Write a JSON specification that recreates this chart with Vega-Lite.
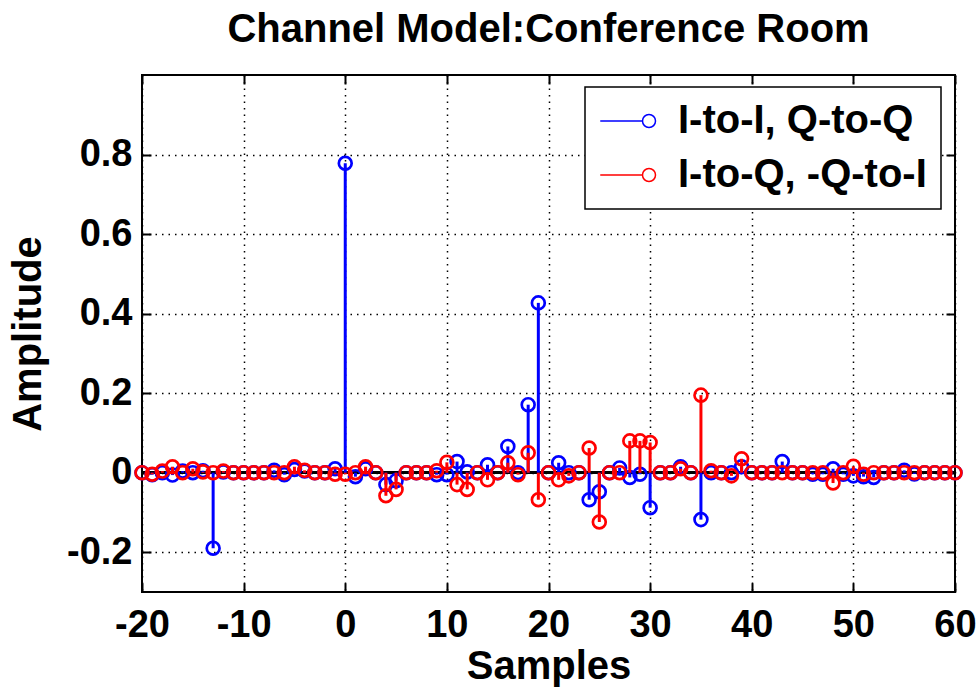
{
  "$schema": "https://vega.github.io/schema/vega-lite/v6.json",
  "width": 813,
  "height": 517,
  "autosize": {"type": "none"},
  "padding": {"left": 142, "top": 75, "right": 24, "bottom": 97},
  "background": "white",
  "title": {"text": "Channel Model:Conference Room", "font": "Liberation Sans", "fontSize": 40, "fontWeight": "bold", "color": "black", "anchor": "middle", "offset": 24},
  "datasets": {
    "stems": [
      {"n":-20,"v":0,"s":"I-to-I, Q-to-Q"},{"n":-19,"v":-0.005,"s":"I-to-I, Q-to-Q"},{"n":-18,"v":0,"s":"I-to-I, Q-to-Q"},{"n":-17,"v":-0.006,"s":"I-to-I, Q-to-Q"},{"n":-16,"v":0.004,"s":"I-to-I, Q-to-Q"},{"n":-15,"v":0,"s":"I-to-I, Q-to-Q"},{"n":-14,"v":0.005,"s":"I-to-I, Q-to-Q"},{"n":-13,"v":-0.19,"s":"I-to-I, Q-to-Q"},{"n":-12,"v":0.002,"s":"I-to-I, Q-to-Q"},{"n":-11,"v":0,"s":"I-to-I, Q-to-Q"},
      {"n":-10,"v":0,"s":"I-to-I, Q-to-Q"},{"n":-9,"v":0,"s":"I-to-I, Q-to-Q"},{"n":-8,"v":0,"s":"I-to-I, Q-to-Q"},{"n":-7,"v":0.006,"s":"I-to-I, Q-to-Q"},{"n":-6,"v":-0.005,"s":"I-to-I, Q-to-Q"},{"n":-5,"v":0.008,"s":"I-to-I, Q-to-Q"},{"n":-4,"v":0.004,"s":"I-to-I, Q-to-Q"},{"n":-3,"v":0,"s":"I-to-I, Q-to-Q"},{"n":-2,"v":0,"s":"I-to-I, Q-to-Q"},{"n":-1,"v":0.01,"s":"I-to-I, Q-to-Q"},
      {"n":0,"v":0.778,"s":"I-to-I, Q-to-Q"},{"n":1,"v":-0.01,"s":"I-to-I, Q-to-Q"},{"n":2,"v":0.01,"s":"I-to-I, Q-to-Q"},{"n":3,"v":0,"s":"I-to-I, Q-to-Q"},{"n":4,"v":-0.03,"s":"I-to-I, Q-to-Q"},{"n":5,"v":-0.02,"s":"I-to-I, Q-to-Q"},{"n":6,"v":0,"s":"I-to-I, Q-to-Q"},{"n":7,"v":0,"s":"I-to-I, Q-to-Q"},{"n":8,"v":0,"s":"I-to-I, Q-to-Q"},{"n":9,"v":-0.005,"s":"I-to-I, Q-to-Q"},
      {"n":10,"v":-0.005,"s":"I-to-I, Q-to-Q"},{"n":11,"v":0.028,"s":"I-to-I, Q-to-Q"},{"n":12,"v":0.002,"s":"I-to-I, Q-to-Q"},{"n":13,"v":0,"s":"I-to-I, Q-to-Q"},{"n":14,"v":0.02,"s":"I-to-I, Q-to-Q"},{"n":15,"v":0,"s":"I-to-I, Q-to-Q"},{"n":16,"v":0.066,"s":"I-to-I, Q-to-Q"},{"n":17,"v":0,"s":"I-to-I, Q-to-Q"},{"n":18,"v":0.171,"s":"I-to-I, Q-to-Q"},{"n":19,"v":0.427,"s":"I-to-I, Q-to-Q"},
      {"n":20,"v":0,"s":"I-to-I, Q-to-Q"},{"n":21,"v":0.025,"s":"I-to-I, Q-to-Q"},{"n":22,"v":0,"s":"I-to-I, Q-to-Q"},{"n":23,"v":0,"s":"I-to-I, Q-to-Q"},{"n":24,"v":-0.068,"s":"I-to-I, Q-to-Q"},{"n":25,"v":-0.048,"s":"I-to-I, Q-to-Q"},{"n":26,"v":0,"s":"I-to-I, Q-to-Q"},{"n":27,"v":0.012,"s":"I-to-I, Q-to-Q"},{"n":28,"v":-0.012,"s":"I-to-I, Q-to-Q"},{"n":29,"v":-0.004,"s":"I-to-I, Q-to-Q"},
      {"n":30,"v":-0.088,"s":"I-to-I, Q-to-Q"},{"n":31,"v":0,"s":"I-to-I, Q-to-Q"},{"n":32,"v":0,"s":"I-to-I, Q-to-Q"},{"n":33,"v":0.015,"s":"I-to-I, Q-to-Q"},{"n":34,"v":0,"s":"I-to-I, Q-to-Q"},{"n":35,"v":-0.118,"s":"I-to-I, Q-to-Q"},{"n":36,"v":0,"s":"I-to-I, Q-to-Q"},{"n":37,"v":0,"s":"I-to-I, Q-to-Q"},{"n":38,"v":0,"s":"I-to-I, Q-to-Q"},{"n":39,"v":0.015,"s":"I-to-I, Q-to-Q"},
      {"n":40,"v":0,"s":"I-to-I, Q-to-Q"},{"n":41,"v":0,"s":"I-to-I, Q-to-Q"},{"n":42,"v":0,"s":"I-to-I, Q-to-Q"},{"n":43,"v":0.028,"s":"I-to-I, Q-to-Q"},{"n":44,"v":0,"s":"I-to-I, Q-to-Q"},{"n":45,"v":0,"s":"I-to-I, Q-to-Q"},{"n":46,"v":-0.004,"s":"I-to-I, Q-to-Q"},{"n":47,"v":-0.004,"s":"I-to-I, Q-to-Q"},{"n":48,"v":0.01,"s":"I-to-I, Q-to-Q"},{"n":49,"v":-0.004,"s":"I-to-I, Q-to-Q"},
      {"n":50,"v":-0.008,"s":"I-to-I, Q-to-Q"},{"n":51,"v":-0.01,"s":"I-to-I, Q-to-Q"},{"n":52,"v":-0.012,"s":"I-to-I, Q-to-Q"},{"n":53,"v":0,"s":"I-to-I, Q-to-Q"},{"n":54,"v":0,"s":"I-to-I, Q-to-Q"},{"n":55,"v":0.006,"s":"I-to-I, Q-to-Q"},{"n":56,"v":-0.003,"s":"I-to-I, Q-to-Q"},{"n":57,"v":0,"s":"I-to-I, Q-to-Q"},{"n":58,"v":0,"s":"I-to-I, Q-to-Q"},{"n":59,"v":0,"s":"I-to-I, Q-to-Q"},
      {"n":60,"v":0,"s":"I-to-I, Q-to-Q"},
      {"n":-20,"v":0,"s":"I-to-Q, -Q-to-I"},{"n":-19,"v":-0.004,"s":"I-to-Q, -Q-to-I"},{"n":-18,"v":0.004,"s":"I-to-Q, -Q-to-I"},{"n":-17,"v":0.015,"s":"I-to-Q, -Q-to-I"},{"n":-16,"v":0,"s":"I-to-Q, -Q-to-I"},{"n":-15,"v":0.01,"s":"I-to-Q, -Q-to-I"},{"n":-14,"v":0.002,"s":"I-to-Q, -Q-to-I"},{"n":-13,"v":0,"s":"I-to-Q, -Q-to-I"},{"n":-12,"v":0.004,"s":"I-to-Q, -Q-to-I"},{"n":-11,"v":0,"s":"I-to-Q, -Q-to-I"},
      {"n":-10,"v":0,"s":"I-to-Q, -Q-to-I"},{"n":-9,"v":0,"s":"I-to-Q, -Q-to-I"},{"n":-8,"v":0,"s":"I-to-Q, -Q-to-I"},{"n":-7,"v":0,"s":"I-to-Q, -Q-to-I"},{"n":-6,"v":0,"s":"I-to-Q, -Q-to-I"},{"n":-5,"v":0.015,"s":"I-to-Q, -Q-to-I"},{"n":-4,"v":0.006,"s":"I-to-Q, -Q-to-I"},{"n":-3,"v":0,"s":"I-to-Q, -Q-to-I"},{"n":-2,"v":0,"s":"I-to-Q, -Q-to-I"},{"n":-1,"v":-0.004,"s":"I-to-Q, -Q-to-I"},
      {"n":0,"v":-0.004,"s":"I-to-Q, -Q-to-I"},{"n":1,"v":0,"s":"I-to-Q, -Q-to-I"},{"n":2,"v":0.015,"s":"I-to-Q, -Q-to-I"},{"n":3,"v":0,"s":"I-to-Q, -Q-to-I"},{"n":4,"v":-0.058,"s":"I-to-Q, -Q-to-I"},{"n":5,"v":-0.042,"s":"I-to-Q, -Q-to-I"},{"n":6,"v":0,"s":"I-to-Q, -Q-to-I"},{"n":7,"v":0,"s":"I-to-Q, -Q-to-I"},{"n":8,"v":0,"s":"I-to-Q, -Q-to-I"},{"n":9,"v":0.005,"s":"I-to-Q, -Q-to-I"},
      {"n":10,"v":0.026,"s":"I-to-Q, -Q-to-I"},{"n":11,"v":-0.03,"s":"I-to-Q, -Q-to-I"},{"n":12,"v":-0.042,"s":"I-to-Q, -Q-to-I"},{"n":13,"v":0,"s":"I-to-Q, -Q-to-I"},{"n":14,"v":-0.018,"s":"I-to-Q, -Q-to-I"},{"n":15,"v":0,"s":"I-to-Q, -Q-to-I"},{"n":16,"v":0.025,"s":"I-to-Q, -Q-to-I"},{"n":17,"v":-0.005,"s":"I-to-Q, -Q-to-I"},{"n":18,"v":0.05,"s":"I-to-Q, -Q-to-I"},{"n":19,"v":-0.068,"s":"I-to-Q, -Q-to-I"},
      {"n":20,"v":0,"s":"I-to-Q, -Q-to-I"},{"n":21,"v":-0.018,"s":"I-to-Q, -Q-to-I"},{"n":22,"v":-0.008,"s":"I-to-Q, -Q-to-I"},{"n":23,"v":0,"s":"I-to-Q, -Q-to-I"},{"n":24,"v":0.062,"s":"I-to-Q, -Q-to-I"},{"n":25,"v":-0.124,"s":"I-to-Q, -Q-to-I"},{"n":26,"v":0,"s":"I-to-Q, -Q-to-I"},{"n":27,"v":0,"s":"I-to-Q, -Q-to-I"},{"n":28,"v":0.08,"s":"I-to-Q, -Q-to-I"},{"n":29,"v":0.08,"s":"I-to-Q, -Q-to-I"},
      {"n":30,"v":0.076,"s":"I-to-Q, -Q-to-I"},{"n":31,"v":0,"s":"I-to-Q, -Q-to-I"},{"n":32,"v":0,"s":"I-to-Q, -Q-to-I"},{"n":33,"v":0.01,"s":"I-to-Q, -Q-to-I"},{"n":34,"v":0,"s":"I-to-Q, -Q-to-I"},{"n":35,"v":0.195,"s":"I-to-Q, -Q-to-I"},{"n":36,"v":0.005,"s":"I-to-Q, -Q-to-I"},{"n":37,"v":0,"s":"I-to-Q, -Q-to-I"},{"n":38,"v":-0.008,"s":"I-to-Q, -Q-to-I"},{"n":39,"v":0.035,"s":"I-to-Q, -Q-to-I"},
      {"n":40,"v":0,"s":"I-to-Q, -Q-to-I"},{"n":41,"v":0,"s":"I-to-Q, -Q-to-I"},{"n":42,"v":0,"s":"I-to-Q, -Q-to-I"},{"n":43,"v":0,"s":"I-to-Q, -Q-to-I"},{"n":44,"v":0,"s":"I-to-Q, -Q-to-I"},{"n":45,"v":0,"s":"I-to-Q, -Q-to-I"},{"n":46,"v":0,"s":"I-to-Q, -Q-to-I"},{"n":47,"v":0,"s":"I-to-Q, -Q-to-I"},{"n":48,"v":-0.026,"s":"I-to-Q, -Q-to-I"},{"n":49,"v":0,"s":"I-to-Q, -Q-to-I"},
      {"n":50,"v":0.016,"s":"I-to-Q, -Q-to-I"},{"n":51,"v":-0.004,"s":"I-to-Q, -Q-to-I"},{"n":52,"v":0,"s":"I-to-Q, -Q-to-I"},{"n":53,"v":0,"s":"I-to-Q, -Q-to-I"},{"n":54,"v":0,"s":"I-to-Q, -Q-to-I"},{"n":55,"v":0,"s":"I-to-Q, -Q-to-I"},{"n":56,"v":0,"s":"I-to-Q, -Q-to-I"},{"n":57,"v":0,"s":"I-to-Q, -Q-to-I"},{"n":58,"v":0,"s":"I-to-Q, -Q-to-I"},{"n":59,"v":0,"s":"I-to-Q, -Q-to-I"},
      {"n":60,"v":0,"s":"I-to-Q, -Q-to-I"}
    ]
  },
  "data": {"name": "stems"},
  "encoding": {
    "x": {"field": "n", "type": "quantitative", "scale": {"domain": [-20, 60], "nice": false, "zero": false}},
    "y": {"field": "v", "type": "quantitative", "scale": {"domain": [-0.3, 1.0], "nice": false, "zero": false}},
    "color": {"field": "s", "type": "nominal", "scale": {"domain": ["I-to-I, Q-to-Q", "I-to-Q, -Q-to-I"], "range": ["#0000ff", "#ff0000"]},
      "legend": {
        "orient": "none", "legendX": 443, "legendY": 12, "title": null,
        "symbolType": "M-7.5,0L-1,0M-1,0A1,1 0 1,1 1,0A1,1 0 1,1 -1,0",
        "symbolSize": 169, "symbolStrokeWidth": 1.5, "symbolFillColor": "transparent",
        "symbolOffset": 30, "labelOffset": 9, "labelLimit": 500,
        "labelFont": "Liberation Sans", "labelFontSize": 40, "labelFontWeight": "bold", "labelColor": "black",
        "padding": 14, "rowPadding": 14,
        "strokeColor": "black", "fillColor": "white"
      }
    }
  },
  "layer": [
    {
      "mark": {"type": "rule", "color": "black", "strokeWidth": 2.5},
      "encoding": {"x": null, "color": null, "y": {"datum": 0, "type": "quantitative", "axis": null}}
    },
    {
      "transform": [{"filter": "datum.s === 'I-to-I, Q-to-Q'"}],
      "mark": {"type": "rule", "strokeWidth": 3},
      "encoding": {
        "y2": {"datum": 0},
        "x": {"field": "n", "type": "quantitative", "axis": {
          "orient": "bottom", "values": [-20, -10, 0, 10, 20, 30, 40, 50, 60], "labelExpr": "toString(datum.value)",
          "labelFont": "Liberation Sans", "labelFontSize": 38, "labelFontWeight": "bold", "labelColor": "black", "labelPadding": 14, "labelFlush": false,
          "ticks": false, "domain": false,
          "grid": true, "gridColor": "black", "gridOpacity": 1, "gridWidth": 1.5, "gridDash": [1.5, 5],
          "title": "Samples", "titleFont": "Liberation Sans", "titleFontSize": 40, "titleFontWeight": "bold", "titleColor": "black", "titlePadding": 2
        }},
        "y": {"field": "v", "type": "quantitative", "axis": {
          "orient": "left", "values": [-0.2, 0, 0.2, 0.4, 0.6, 0.8], "labelExpr": "toString(datum.value)",
          "labelFont": "Liberation Sans", "labelFontSize": 38, "labelFontWeight": "bold", "labelColor": "black", "labelPadding": 10, "labelFlush": false,
          "ticks": false, "domain": false,
          "grid": true, "gridColor": "black", "gridOpacity": 1, "gridWidth": 1.5, "gridDash": [1.5, 5],
          "title": "Amplitude", "titleFont": "Liberation Sans", "titleFontSize": 40, "titleFontWeight": "bold", "titleColor": "black", "titlePadding": 18
        }}
      }
    },
    {
      "transform": [{"filter": "datum.s === 'I-to-I, Q-to-Q'"}],
      "mark": {"type": "point", "filled": false, "size": 165, "strokeWidth": 2.7, "opacity": 1},
      "encoding": {
        "x": {"field": "n", "type": "quantitative", "axis": {"orient": "top", "offset": -9, "values": [-20, -10, 0, 10, 20, 30, 40, 50, 60], "labels": false, "grid": false, "domain": false, "ticks": true, "tickSize": 9, "tickColor": "black", "tickWidth": 2, "title": null}},
        "y": {"field": "v", "type": "quantitative", "axis": {"orient": "right", "offset": -9, "values": [-0.2, 0, 0.2, 0.4, 0.6, 0.8], "labels": false, "grid": false, "domain": false, "ticks": true, "tickSize": 9, "tickColor": "black", "tickWidth": 2, "title": null}}
      }
    },
    {
      "transform": [{"filter": "datum.s === 'I-to-Q, -Q-to-I'"}],
      "mark": {"type": "rule", "strokeWidth": 3},
      "encoding": {
        "y2": {"datum": 0},
        "x": {"field": "n", "type": "quantitative", "axis": {"orient": "bottom", "offset": -9, "values": [-20, -10, 0, 10, 20, 30, 40, 50, 60], "labels": false, "grid": false, "domain": false, "ticks": true, "tickSize": 9, "tickColor": "black", "tickWidth": 2, "title": null}},
        "y": {"field": "v", "type": "quantitative", "axis": {"orient": "left", "offset": -9, "values": [-0.2, 0, 0.2, 0.4, 0.6, 0.8], "labels": false, "grid": false, "domain": false, "ticks": true, "tickSize": 9, "tickColor": "black", "tickWidth": 2, "title": null}}
      }
    },
    {
      "transform": [{"filter": "datum.s === 'I-to-Q, -Q-to-I'"}],
      "mark": {"type": "point", "filled": false, "size": 165, "strokeWidth": 2.7, "opacity": 1},
      "encoding": {
        "x": {"field": "n", "type": "quantitative", "axis": null},
        "y": {"field": "v", "type": "quantitative", "axis": null}
      }
    }
  ],
  "resolve": {"axis": {"x": "independent", "y": "independent"}},
  "config": {
    "view": {"stroke": "black", "strokeWidth": 2},
    "legend": {"strokeWidth": 1.5}
  }
}
